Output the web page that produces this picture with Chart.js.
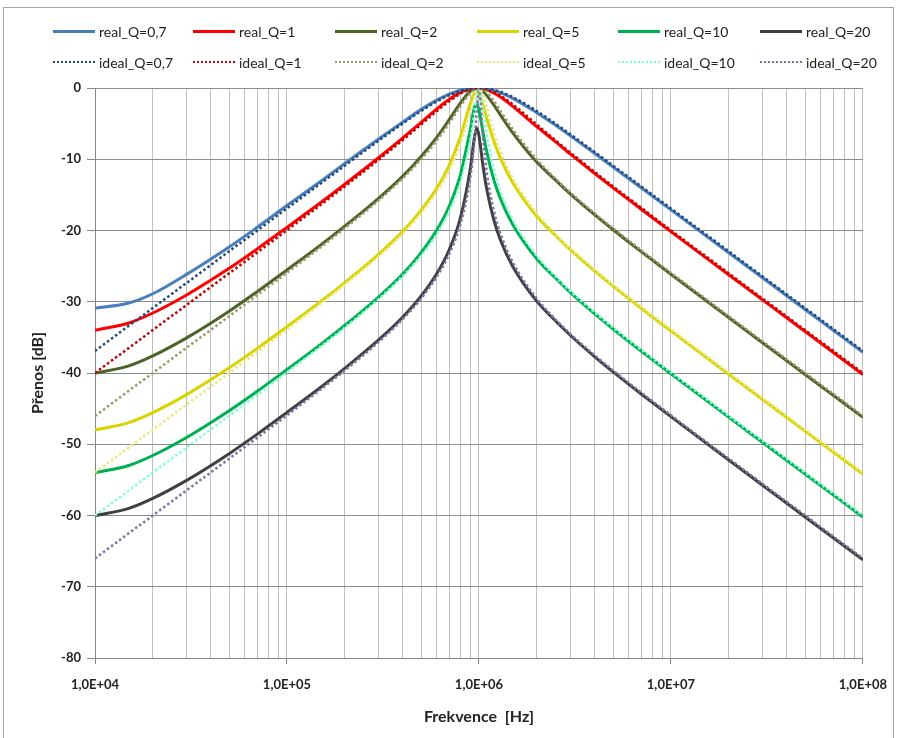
<!DOCTYPE html>
<html>
<head>
<meta charset="utf-8">
<script src="https://cdn.jsdelivr.net/npm/chart.js@4.4.1/dist/chart.umd.min.js"></script>
<style>
  body { margin: 0; background: #fff; }
  #wrap { position: relative; width: 900px; height: 738px; overflow: hidden; font-family: Lato, "Open Sans", sans-serif; }
  #frame { position: absolute; left: 3px; top: 7px; width: 891px; height: 740px; border: 1px solid #a6a6a6; box-sizing: border-box; }
  #chart { position: absolute; left: 0; top: 0; }
  .item { position: absolute; display: flex; align-items: center; font-size: 14px; color: #222; white-space: nowrap; }
  .swatch { width: 42px; height: 0; margin-right: 4px; }
</style>
</head>
<body>
<div id="wrap">
  <div id="frame"></div>
  <canvas id="chart" width="900" height="738"></canvas>
  <div id="legend"></div>
</div>
<script>
// frekvence [Hz]
const freq = [1e4, 1.5e4, 2e4, 3e4, 5e4, 7e4, 1e5, 1.5e5, 2e5, 3e5, 4e5,
  5e5, 6e5, 7e5, 8e5, 9e5, 9.5e5, 9.75e5, 1e6, 1.05e6, 1.1e6, 1.2e6, 1.3e6, 1.5e6, 2e6,
  2.5e6, 3e6, 4e6, 5e6, 7e6, 1e7, 2e7, 3e7, 5e7, 1e8];

// přenos [dB] - měřené (real)
const real07 = [-30.9, -30.18, -28.88, -26.16, -22.32, -19.55, -16.5, -13.09, -10.6, -7.16, -4.8,
  -3.0, -1.73, -0.85, -0.31, -0.05, 0, 0, -0.01, -0.05, -0.13, -0.37, -0.69, -1.45, -3.46,
  -5.2, -6.72, -9.17, -11.1, -14.01, -17.1, -23.12, -26.64, -31.08, -37.1];
const real1 = [-34.0, -32.98, -31.58, -29.05, -25.31, -22.58, -19.56, -16.08, -13.51, -9.79, -7.03,
  -4.81, -3.0, -1.59, -0.61, -0.1, -0.01, 0, -0.02, -0.11, -0.27, -0.73, -1.31, -2.58, -5.42,
  -7.53, -9.29, -11.98, -14.01, -17.01, -20.16, -26.21, -29.74, -34.18, -40.2];
const real2 = [-40.02, -39.0, -37.6, -35.07, -31.32, -28.58, -25.54, -22.03, -19.39, -15.48, -12.4,
  -9.61, -7.0, -4.45, -2.11, -0.47, -0.13, -0.1, -0.16, -0.51, -1.07, -2.45, -3.87, -6.3, -10.4,
  -12.9, -14.89, -17.78, -19.89, -22.97, -26.14, -32.22, -35.75, -40.2, -46.22];
const real5 = [-47.98, -46.96, -45.56, -43.03, -39.28, -36.54, -33.49, -29.96, -27.31, -23.34, -20.16,
  -17.15, -14.15, -10.85, -6.89, -2.26, -0.67, -0.51, -0.85, -2.43, -4.33, -7.57, -9.98, -13.3, -18.01,
  -20.66, -22.72, -25.67, -27.81, -30.91, -34.09, -40.18, -43.71, -48.16, -54.18];
const real10 = [-54.0, -52.98, -51.58, -49.05, -45.3, -42.56, -39.51, -35.98, -33.33, -29.34, -26.15,
  -23.1, -20.05, -16.6, -12.22, -5.92, -2.63, -2.23, -3.08, -6.21, -9.04, -13.02, -15.67, -19.17, -23.98,
  -26.65, -28.73, -31.68, -33.83, -36.92, -40.11, -46.2, -49.73, -54.18, -60.2];
const real20 = [-60.02, -59.0, -57.6, -55.07, -51.32, -48.58, -45.53, -42.0, -39.35, -35.36, -32.17,
  -29.19, -26.15, -22.7, -18.27, -11.43, -6.73, -5.6, -6.68, -10.95, -14.32, -18.67, -21.46, -25.05, -29.92,
  -32.67, -34.74, -37.7, -39.85, -42.94, -46.13, -52.22, -55.75, -60.2, -66.22];

// přenos [dB] - ideální
const ideal07 = [-36.9, -33.38, -30.88, -27.36, -22.92, -20.0, -16.9, -13.39, -10.9, -7.41, -5.0,
  -3.23, -1.92, -1.0, -0.41, -0.09, -0.02, -0.01, 0, -0.02, -0.08, -0.28, -0.56, -1.27, -3.23,
  -5.0, -6.52, -8.97, -10.9, -13.81, -16.9, -22.92, -26.44, -30.88, -36.9];
const ideal1 = [-40.0, -36.48, -33.98, -30.45, -26.01, -23.08, -19.96, -16.38, -13.81, -10.09, -7.33,
  -5.12, -3.3, -1.85, -0.8, -0.19, -0.05, -0.01, 0, -0.04, -0.16, -0.55, -1.08, -2.29, -5.12,
  -7.33, -9.09, -11.78, -13.81, -16.81, -19.96, -26.01, -29.54, -33.98, -40.0];
const ideal2 = [-46.02, -42.5, -40.0, -36.47, -32.02, -29.08, -25.94, -22.33, -19.69, -15.78, -12.7,
  -10.0, -7.44, -4.95, -2.58, -0.71, -0.18, -0.04, 0, -0.16, -0.59, -1.87, -3.28, -5.77, -10.0,
  -12.7, -14.69, -17.58, -19.69, -22.77, -25.94, -32.02, -35.55, -40.0, -46.02];
const ideal5 = [-53.98, -50.46, -47.96, -44.43, -39.98, -37.04, -33.89, -30.26, -27.61, -23.64, -20.46,
  -17.58, -14.69, -11.54, -7.83, -3.25, -1.02, -0.27, 0, -0.93, -2.81, -6.4, -9.05, -12.64, -17.58,
  -20.46, -22.52, -25.47, -27.61, -30.71, -33.89, -39.98, -43.51, -47.96, -53.98];
const ideal10 = [-60.0, -56.48, -53.98, -50.45, -46.0, -43.06, -39.91, -36.28, -33.63, -29.64, -26.45,
  -23.54, -20.6, -17.33, -13.27, -7.37, -3.12, -0.99, 0, -2.91, -6.67, -11.6, -14.65, -18.48, -23.54,
  -26.45, -28.53, -31.48, -33.63, -36.72, -39.91, -46.0, -49.53, -53.98, -60.0];
const ideal20 = [-66.02, -62.5, -60.0, -56.47, -52.02, -49.08, -45.93, -42.3, -39.65, -35.66, -32.47,
  -29.55, -26.59, -23.29, -19.14, -12.75, -7.17, -3.07, 0, -6.82, -11.93, -17.39, -20.56, -24.45, -29.55,
  -32.47, -34.54, -37.5, -39.65, -42.74, -45.93, -52.02, -55.55, -60.0, -66.02];

const realNames = ['real_Q=0,7', 'real_Q=1', 'real_Q=2', 'real_Q=5', 'real_Q=10', 'real_Q=20'];
const idealNames = ['ideal_Q=0,7', 'ideal_Q=1', 'ideal_Q=2', 'ideal_Q=5', 'ideal_Q=10', 'ideal_Q=20'];
const realSeries = [real07, real1, real2, real5, real10, real20];
const idealSeries = [ideal07, ideal1, ideal2, ideal5, ideal10, ideal20];
const realColors = ['#4a7ebb', '#ff0000', '#4f6228', '#d9d400', '#00b050', '#404040'];
const idealColors = ['#1f497d', '#c00000', '#9a9a6a', '#ece67a', '#7fffd4', '#8070a8'];

const toPoints = vals => freq.map((f, i) => ({ x: f, y: vals[i] }));

const datasets = [];
realSeries.forEach((vals, i) => datasets.push({
  label: realNames[i], data: toPoints(vals), borderColor: realColors[i],
  borderWidth: 3, pointRadius: 0, cubicInterpolationMode: 'monotone', order: 1
}));
idealSeries.forEach((vals, i) => datasets.push({
  label: idealNames[i], data: toPoints(vals), borderColor: idealColors[i],
  borderWidth: 2.5, borderDash: [2.5, 2.5], pointRadius: 0, cubicInterpolationMode: 'monotone', order: 0
}));

// mřížka: 1..9 x 10^n
const gridValues = [];
for (let e = 4; e < 8; e++) for (let m = 1; m < 10; m++) gridValues.push(m * Math.pow(10, e));
gridValues.push(1e8);
const isDecade = v => Math.abs(Math.log10(v) - Math.round(Math.log10(v))) < 1e-9;

Chart.defaults.font.family = 'Lato, "Open Sans", sans-serif';

new Chart(document.getElementById('chart'), {
  type: 'line',
  data: { datasets },
  options: {
    responsive: false,
    animation: false,
    layout: { padding: { top: 88, right: 32, left: 0, bottom: 0 } },
    plugins: { legend: { display: false }, tooltip: { enabled: false } },
    scales: {
      x: {
        type: 'logarithmic', min: 1e4, max: 1e8,
        afterBuildTicks: scale => { scale.ticks = gridValues.map(v => ({ value: v })); },
        afterFit: scale => { scale.height = 80; },
        ticks: {
          autoSkip: false, maxRotation: 0, padding: 13,
          color: '#222', font: { size: 13, weight: 'bold' },
          callback: v => isDecade(v) ? '1,0E+' + String(Math.round(Math.log10(v))).padStart(2, '0') : ''
        },
        grid: {
          color: '#bfbfbf', lineWidth: 1, tickLength: 6,
          tickColor: ctx => (ctx.tick && isDecade(ctx.tick.value)) ? '#868686' : 'rgba(0,0,0,0)'
        },
        border: { color: '#868686' },
        title: { display: true, text: 'Frekvence  [Hz]', color: '#222', font: { size: 16, weight: 'bold' }, padding: { top: 0, bottom: 12 } }
      },
      y: {
        min: -80, max: 0,
        afterFit: scale => { scale.width = 95; },
        ticks: { stepSize: 10, padding: 6, color: '#222', font: { size: 13, weight: 'bold' } },
        grid: { color: '#8c8c8c', lineWidth: 1, tickLength: 8, tickColor: '#868686' },
        border: { color: '#868686' },
        title: { display: true, text: 'Přenos [dB]', color: '#222', font: { size: 16, weight: 'bold' }, padding: { top: 28, bottom: 0 } }
      }
    }
  }
});

// legenda ve dvou řádcích
const legend = document.getElementById('legend');
const colX = [53, 193, 335, 477, 618, 760];
function addItem(x, y, name, color, dotted) {
  const el = document.createElement('div');
  el.className = 'item';
  el.style.left = x + 'px';
  el.style.top = (y - 10) + 'px';
  el.style.height = '20px';
  const sw = document.createElement('span');
  sw.className = 'swatch';
  sw.style.borderTop = dotted ? '2px dotted ' + color : '3px solid ' + color;
  el.appendChild(sw);
  el.appendChild(document.createTextNode(name));
  legend.appendChild(el);
}
realNames.forEach((n, i) => addItem(colX[i], 31, n, realColors[i], false));
idealNames.forEach((n, i) => addItem(colX[i], 62, n, idealColors[i], true));
</script>
</body>
</html>
